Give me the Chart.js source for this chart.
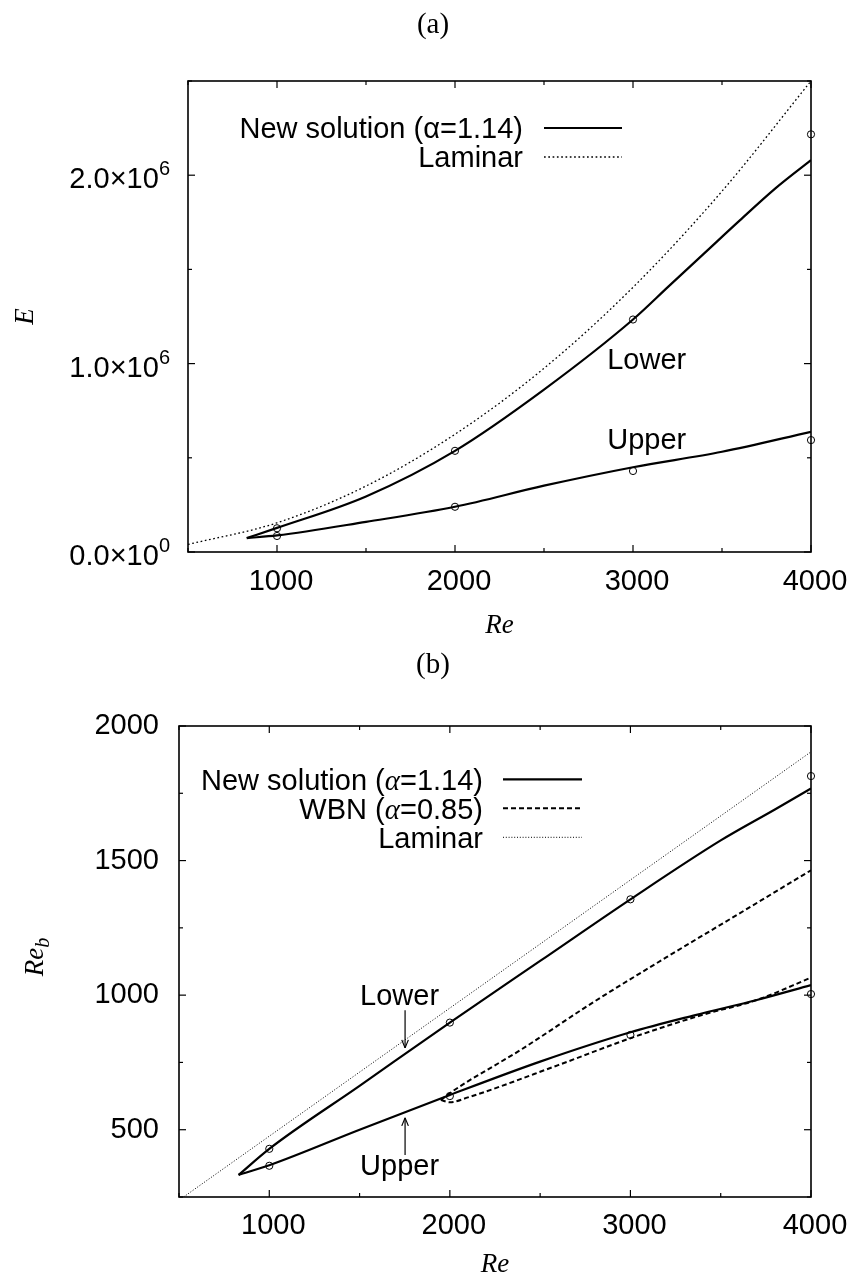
<!DOCTYPE html>
<html>
<head>
<meta charset="utf-8">
<script src="https://cdn.jsdelivr.net/npm/chart.js@4.4.1/dist/chart.umd.min.js"></script>
<style>
  html, body { margin: 0; padding: 0; background: #fff; }
  .panel { width: 851px; height: 643px; }
  canvas { display: block; }
</style>
</head>
<body>
<div class="panel"><canvas id="chartA" width="851" height="643"></canvas></div>
<div class="panel"><canvas id="chartB" width="851" height="643"></canvas></div>
<script>
// (a) energy E against Re, E in units of 10^6
const aLaminarRe = [500, 1000, 1500, 2000, 2500, 3000, 3500, 4000];
const aLaminarE  = [0.04, 0.155, 0.35, 0.625, 0.975, 1.405, 1.915, 2.5];
const aLowerRe = [830, 1000, 1500, 2000, 2500, 3000, 3200, 3400, 3600, 3800, 4000];
const aLowerE  = [0.074, 0.128, 0.295, 0.537, 0.862, 1.234, 1.41, 1.585, 1.76, 1.93, 2.08];
const aUpperRe = [830, 1000, 1500, 2000, 2500, 3000, 3500, 4000];
const aUpperE  = [0.074, 0.088, 0.16, 0.24, 0.352, 0.45, 0.532, 0.638];
const aPointRe = [1000, 1000, 2000, 2000, 3000, 3000, 4000, 4000];
const aPointE  = [0.126, 0.085, 0.537, 0.24, 1.234, 0.43, 2.217, 0.594];

// (b) bulk Reynolds number Re_b against Re
const bLaminarRe  = [500, 4000];
const bLaminarReb = [238, 1904];
const bLowerRe  = [830, 1000, 1500, 2000, 2500, 3000, 3500, 3800, 4000];
const bLowerReb = [332, 429, 663, 898, 1127, 1356, 1575, 1690, 1768];
const bUpperRe  = [830, 1000, 1500, 2000, 2500, 3000, 3360, 3700, 4000];
const bUpperReb = [332, 368, 500, 629, 753, 862, 926, 982, 1037];
const wbnUpperRe  = [1950, 2000, 2400, 2800, 3200, 3600, 4000];
const wbnUpperReb = [610, 636, 800, 976, 1141, 1302, 1464];
const wbnLowerRe  = [1950, 2000, 2100, 2600, 3000, 3400, 3700, 4000];
const wbnLowerReb = [610, 602, 620, 740, 840, 927, 982, 1065];
const bPointRe  = [1000, 1000, 2000, 2000, 3000, 3000, 4000, 4000];
const bPointReb = [429, 366, 898, 625, 1356, 852, 1814, 1004];

const reTicks = [1000, 2000, 3000, 4000];

const SANS = '"Liberation Sans", Arial, Helvetica, sans-serif';
const SERIF = '"Liberation Serif", "Times New Roman", serif';
const SANS29 = '29px ' + SANS;
const ITAL29 = 'italic 29px ' + SERIF;

function pts(xs, ys) {
  return xs.map((x, i) => ({ x: x, y: ys[i] }));
}

function curve(data, dash, width) {
  return {
    data: data,
    borderColor: '#000',
    borderWidth: width,
    borderDash: dash,
    pointRadius: 0,
    fill: false,
    cubicInterpolationMode: 'monotone'
  };
}

function markers(data) {
  return {
    data: data,
    showLine: false,
    pointRadius: 3.6,
    pointStyle: 'circle',
    pointBorderColor: '#000',
    pointBorderWidth: 1,
    pointBackgroundColor: 'rgba(0,0,0,0)',
    clip: false
  };
}

function line(ctx, x0, y0, x1, y1) {
  ctx.beginPath();
  ctx.moveTo(x0, y0);
  ctx.lineTo(x1, y1);
  ctx.stroke();
}

function isMultiple(v, step) {
  const q = v / step;
  return Math.abs(q - Math.round(q)) < 1e-6;
}

// frame, inward ticks on all sides, key, labels
const decorPlugin = {
  id: 'decor',
  afterDraw(chart, args, o) {
    const { ctx, chartArea: a, scales: { x, y } } = chart;
    ctx.save();
    ctx.strokeStyle = '#000';
    ctx.fillStyle = '#000';

    // tick marks, mirrored
    ctx.lineWidth = 1.2;
    x.ticks.forEach(t => {
      const px = x.getPixelForValue(t.value);
      const len = isMultiple(t.value, o.xMajor) ? 7 : 4;
      line(ctx, px, a.bottom, px, a.bottom - len);
      line(ctx, px, a.top, px, a.top + len);
    });
    y.ticks.forEach(t => {
      const py = y.getPixelForValue(t.value);
      const len = isMultiple(t.value, o.yMajor) ? 7 : 4;
      line(ctx, a.left, py, a.left + len, py);
      line(ctx, a.right, py, a.right - len, py);
    });

    ctx.lineWidth = 1.6;
    ctx.strokeRect(a.left, a.top, a.right - a.left, a.bottom - a.top);

    // scientific y labels: mantissa x 10 with raised exponent
    if (o.sciY) {
      ctx.textBaseline = 'alphabetic';
      ctx.textAlign = 'right';
      y.ticks.forEach(t => {
        if (!isMultiple(t.value, o.yMajor)) return;
        const py = y.getPixelForValue(t.value);
        const exp = t.value === 0 ? '0' : '6';
        const right = a.left - 18;
        ctx.font = '20px ' + SANS;
        const ew = ctx.measureText(exp).width;
        ctx.fillText(exp, right, py);
        ctx.font = SANS29;
        ctx.fillText(t.value.toFixed(1) + '\u00d710', right - ew, py + 13);
      });
    }

    // rotated y title with subscript
    if (o.yTitle) {
      const yt = o.yTitle;
      ctx.save();
      ctx.translate(yt.x, yt.y);
      ctx.rotate(-Math.PI / 2);
      ctx.textAlign = 'left';
      ctx.textBaseline = 'alphabetic';
      ctx.font = yt.font;
      const w1 = ctx.measureText(yt.text).width;
      ctx.font = yt.subFont;
      const w2 = ctx.measureText(yt.sub).width;
      const x0 = -(w1 + w2) / 2;
      ctx.font = yt.font;
      ctx.fillText(yt.text, x0, 0);
      ctx.font = yt.subFont;
      ctx.fillText(yt.sub, x0 + w1, yt.subDrop);
      ctx.restore();
    }

    // panel tag
    ctx.font = '29px ' + SERIF;
    ctx.textAlign = 'center';
    ctx.textBaseline = 'alphabetic';
    ctx.fillText(o.tag.text, o.tag.x, o.tag.y);

    // key: text right-aligned, line sample to the right
    const k = o.key;
    k.entries.forEach((e, i) => {
      const base = k.baseline + i * k.step;
      let w = 0;
      e.parts.forEach(p => { ctx.font = p[1]; w += ctx.measureText(p[0]).width; });
      let cx = k.right - w;
      ctx.textAlign = 'left';
      e.parts.forEach(p => {
        ctx.font = p[1];
        ctx.fillText(p[0], cx, base);
        cx += ctx.measureText(p[0]).width;
      });
      const ds = chart.data.datasets[e.ds];
      ctx.lineWidth = ds.borderWidth;
      ctx.setLineDash(ds.borderDash || []);
      line(ctx, k.from, base + k.lineDy, k.to, base + k.lineDy);
      ctx.setLineDash([]);
    });

    // branch labels
    ctx.font = SANS29;
    ctx.textAlign = 'left';
    (o.notes || []).forEach(n => {
      ctx.fillText(n.text, x.getPixelForValue(n.x), y.getPixelForValue(n.y));
    });

    // arrows
    ctx.lineWidth = 1.2;
    (o.arrows || []).forEach(ar => {
      const px = x.getPixelForValue(ar.x);
      const p0 = y.getPixelForValue(ar.from);
      const p1 = y.getPixelForValue(ar.to);
      const dir = p1 > p0 ? 1 : -1;
      line(ctx, px, p0, px, p1);
      line(ctx, px - 3.3, p1 - dir * 8, px, p1);
      line(ctx, px + 3.3, p1 - dir * 8, px, p1);
    });

    ctx.restore();
  }
};

function xAxis(height, pad, titlePad) {
  return {
    type: 'linear',
    min: 500,
    max: 4000,
    grid: { display: false, drawTicks: false },
    border: { display: false },
    ticks: {
      stepSize: 500,
      autoSkip: false,
      maxRotation: 0,
      padding: pad,
      labelOffset: 4,
      color: '#000',
      font: { family: SANS, size: 29 },
      callback: v => (reTicks.includes(v) ? String(v) : '')
    },
    title: {
      display: true,
      text: 'Re',
      color: '#000',
      font: { family: SERIF, size: 27, style: 'italic' },
      padding: { top: 0, bottom: titlePad }
    },
    afterFit: s => {
      s.height = height;
      // the right margin comes from the layout padding alone
      s.paddingLeft = 0;
      s.paddingRight = 0;
    }
  };
}

// ---------- (a) ----------
new Chart(document.getElementById('chartA'), {
  type: 'line',
  data: {
    datasets: [
      curve(pts(aLaminarRe, aLaminarE), [1.7, 2.6], 1.3),
      curve(pts(aLowerRe, aLowerE), [], 2.2),
      curve(pts(aUpperRe, aUpperE), [], 2.2),
      markers(pts(aPointRe, aPointE))
    ]
  },
  options: {
    responsive: false,
    animation: false,
    events: [],
    layout: { padding: { top: 81, right: 40, left: 0, bottom: 0 } },
    scales: {
      x: xAxis(91, 13, 1),
      y: {
        type: 'linear',
        min: 0,
        max: 2.5,
        grid: { display: false, drawTicks: false },
        border: { display: false },
        ticks: { stepSize: 0.5, display: false },
        title: {
          display: true,
          text: 'E',
          color: '#000',
          font: { family: SERIF, size: 27, style: 'italic' },
          padding: { top: 10, bottom: 0 }
        },
        afterFit: s => { s.width = 188; }
      }
    },
    plugins: {
      legend: { display: false },
      tooltip: { enabled: false },
      decor: {
        xMajor: 1000,
        yMajor: 1,
        sciY: true,
        tag: { text: '(a)', x: 433, y: 33 },
        key: {
          right: 523, baseline: 138, step: 29, lineDy: -10, from: 544, to: 622,
          entries: [
            { parts: [['New solution (', SANS29], ['\u03b1', SANS29], ['=1.14)', SANS29]], ds: 1 },
            { parts: [['Laminar', SANS29]], ds: 0 }
          ]
        },
        notes: [
          { text: 'Lower', x: 2855, y: 0.971 },
          { text: 'Upper', x: 2855, y: 0.546 }
        ]
      }
    }
  },
  plugins: [decorPlugin]
});

// ---------- (b) ----------
new Chart(document.getElementById('chartB'), {
  type: 'line',
  data: {
    datasets: [
      curve(pts(bLaminarRe, bLaminarReb), [1, 1.8], 1),
      curve(pts(bLowerRe, bLowerReb), [], 2.2),
      curve(pts(bUpperRe, bUpperReb), [], 2.2),
      curve(pts(wbnUpperRe, wbnUpperReb), [5, 3], 2),
      curve(pts(wbnLowerRe, wbnLowerReb), [5, 3], 2),
      markers(pts(bPointRe, bPointReb))
    ]
  },
  options: {
    responsive: false,
    animation: false,
    events: [],
    layout: { padding: { top: 83, right: 40, left: 0, bottom: 0 } },
    scales: {
      x: xAxis(89, 12, 5),
      y: {
        type: 'linear',
        min: 250,
        max: 2000,
        grid: { display: false, drawTicks: false },
        border: { display: false },
        ticks: {
          stepSize: 250,
          autoSkip: false,
          padding: 20,
          color: '#000',
          font: { family: SANS, size: 29 },
          callback: v => (v % 500 === 0 ? String(v) : '')
        },
        afterFit: s => { s.width = 179; }
      }
    },
    plugins: {
      legend: { display: false },
      tooltip: { enabled: false },
      decor: {
        xMajor: 1000,
        yMajor: 500,
        tag: { text: '(b)', x: 433, y: 30 },
        yTitle: {
          text: 'Re', sub: 'b', x: 43, y: 314, subDrop: 6,
          font: 'italic 27px ' + SERIF, subFont: 'italic 20px ' + SERIF
        },
        key: {
          right: 483, baseline: 147, step: 29, lineDy: -10.7, from: 503, to: 582,
          entries: [
            { parts: [['New solution (', SANS29], ['\u03b1', ITAL29], ['=1.14)', SANS29]], ds: 1 },
            { parts: [['WBN (', SANS29], ['\u03b1', ITAL29], ['=0.85)', SANS29]], ds: 3 },
            { parts: [['Laminar', SANS29]], ds: 0 }
          ]
        },
        notes: [
          { text: 'Lower', x: 1503, y: 963 },
          { text: 'Upper', x: 1503, y: 332 }
        ],
        arrows: [
          { x: 1752, from: 944, to: 804 },
          { x: 1752, from: 406, to: 544 }
        ]
      }
    }
  },
  plugins: [decorPlugin]
});
</script>
</body>
</html>
